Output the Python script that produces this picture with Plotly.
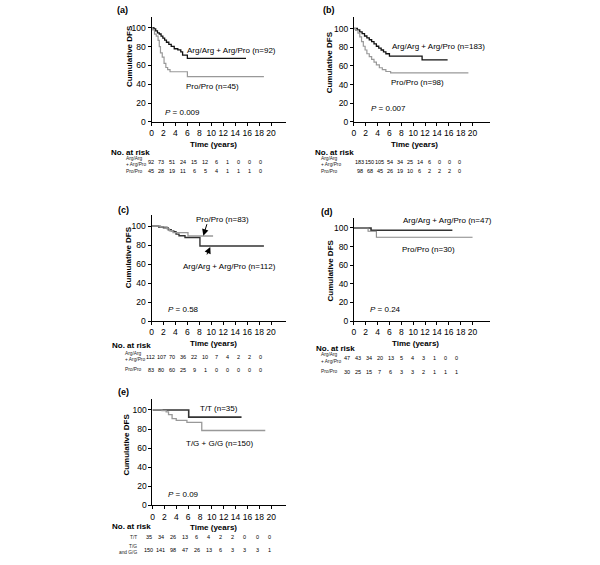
import plotly.graph_objects as go

W, H = 600, 565
FONT = "Arial, Liberation Sans, sans-serif"
BLACK = "#111111"
DARK = "#333333"
GREY = "#999999"

# ---- survival curves (time in years, cumulative DFS %) ----
# (a)
a_arg_t = [0, 0.4, 0.7, 1.0, 1.3, 1.6, 1.9, 2.2, 2.5, 2.9, 3.3, 3.8, 4.4, 4.9, 5.2, 6.0, 15.8]
a_arg_s = [100, 98.9, 96.7, 94.5, 93.4, 91.2, 89.0, 86.8, 84.6, 82.4, 80.2, 77.7, 76.5, 74.3, 71.0, 67.5, 67.5]
a_pro_t = [0, 0.2, 0.5, 0.8, 1.1, 1.3, 1.5, 1.8, 2.1, 2.4, 2.7, 3.1, 6.0, 18.8]
a_pro_s = [100, 97.8, 93.3, 91.1, 86.7, 80.0, 73.3, 68.9, 62.2, 57.8, 55.6, 53.3, 48.0, 48.0]
# (b)
b_arg_t = [0, 0.6, 1.0, 1.4, 1.8, 2.2, 2.6, 3.0, 3.4, 3.8, 4.2, 4.6, 5.0, 5.4, 6.0, 11.5, 15.8]
b_arg_s = [100, 98.5, 96.5, 94.5, 92.0, 90.0, 88.0, 86.0, 83.5, 81.0, 79.0, 77.0, 75.0, 73.0, 70.5, 66.5, 66.5]
b_pro_t = [0, 0.3, 0.7, 1.0, 1.3, 1.6, 1.9, 2.2, 2.6, 3.0, 3.4, 3.8, 4.3, 4.8, 5.4, 6.2, 19.3]
b_pro_s = [100, 98, 95, 91, 86, 81, 77, 73, 70, 67, 64, 61, 58, 56, 54, 52.5, 52.5]
# (c)
c_arg_t = [0, 1.2, 2.0, 2.8, 3.3, 3.7, 4.1, 4.6, 5.6, 8.1, 18.8]
c_arg_s = [100, 99, 98, 96, 95, 94, 91.5, 89.7, 88, 79, 79]
c_pro_t = [0, 1.5, 2.6, 3.0, 3.6, 6.1, 10.3]
c_pro_s = [100, 99, 97, 95, 93, 89.5, 89.5]
# (d)
d_arg_t = [0, 2.9, 16.6]
d_arg_s = [100, 97.5, 97.5]
d_pro_t = [0, 2.4, 3.8, 20.0]
d_pro_s = [100, 96.5, 90, 90]
# (e)
e_tt_t = [0, 6.1, 15.0]
e_tt_s = [100, 92.5, 92.5]
e_tg_t = [0, 1.6, 2.3, 2.7, 3.3, 4.0, 5.8, 8.3, 19.0]
e_tg_s = [100, 99.3, 98, 95, 91, 89, 87, 78.5, 78.5]

# ---- numbers at risk ----
a_risk_arg = [92, 73, 51, 24, 15, 12, 6, 1, 0, 0, 0]
a_risk_pro = [45, 28, 19, 11, 6, 5, 4, 1, 1, 1, 0]
b_risk_arg = [183, 150, 105, 54, 34, 25, 14, 6, 0, 0, 0]
b_risk_pro = [98, 68, 45, 26, 19, 10, 6, 2, 2, 2, 0]
c_risk_arg = [112, 107, 70, 36, 22, 10, 7, 4, 2, 2, 0]
c_risk_pro = [83, 80, 60, 25, 9, 1, 0, 0, 0, 0, 0]
d_risk_arg = [47, 43, 34, 20, 13, 5, 4, 3, 1, 0, 0]
d_risk_pro = [30, 25, 15, 7, 6, 3, 3, 2, 1, 1, 1]
e_risk_tt = [35, 34, 26, 13, 6, 4, 2, 2, 0, 0, 0]
e_risk_tg = [150, 141, 98, 47, 26, 13, 6, 3, 3, 3, 1]

x_ticks = list(range(0, 21, 2))
y_ticks = [0, 20, 40, 60, 80, 100]


def X(px):
    return px / W


def Y(py):
    return 1 - py / H


# panel geometry in pixels: x0, x1, y_top, y_bottom, x range max, y range max
panels = {
    "a": dict(x0=150, x1=285, top=17, bot=123, xmax=22.5, ymax=111.6),
    "b": dict(x0=353, x1=490, top=17, bot=123, xmax=23.0, ymax=112.5),
    "c": dict(x0=150, x1=285, top=217, bot=324, xmax=22.5, ymax=111.5),
    "d": dict(x0=353, x1=490, top=220, bot=324, xmax=23.0, ymax=110.6),
    "e": dict(x0=151, x1=285, top=403, bot=510, xmax=22.5, ymax=111.0),
}

fig = go.Figure()
layout = {}
ann = []

curves = {
    "a": [(a_arg_t, a_arg_s, BLACK, 1.3), (a_pro_t, a_pro_s, GREY, 1.2)],
    "b": [(b_arg_t, b_arg_s, BLACK, 1.3), (b_pro_t, b_pro_s, GREY, 1.2)],
    "c": [(c_arg_t, c_arg_s, DARK, 1.4), (c_pro_t, c_pro_s, GREY, 1.3)],
    "d": [(d_arg_t, d_arg_s, DARK, 1.6), (d_pro_t, d_pro_s, "#888888", 1.1)],
    "e": [(e_tt_t, e_tt_s, DARK, 1.6), (e_tg_t, e_tg_s, GREY, 1.3)],
}

for i, key in enumerate("abcde"):
    p = panels[key]
    n = "" if i == 0 else str(i + 1)
    axis_common = dict(showline=True, linecolor="black", linewidth=1, ticks="outside",
                       ticklen=3, tickwidth=1, tickcolor="black", showgrid=False,
                       zeroline=False, tickangle=0,
                       tickfont=dict(family=FONT, size=8.5, color="black"))
    layout["xaxis" + n] = dict(domain=[X(p["x0"]), X(p["x1"])], range=[0, p["xmax"]],
                               anchor="y" + n, tickvals=x_ticks, **axis_common)
    layout["yaxis" + n] = dict(domain=[Y(p["bot"]), Y(p["top"])], range=[0, p["ymax"]],
                               anchor="x" + n, tickvals=y_ticks, **axis_common)
    for t, s, col, w in curves[key]:
        fig.add_trace(go.Scatter(x=t, y=s, mode="lines", line=dict(color=col, width=w, shape="hv"),
                                 xaxis="x" + n, yaxis="y" + n, showlegend=False, hoverinfo="skip"))


def text(px, py, s, size=8, bold=False, xanchor="center", angle=0, color="black"):
    if bold:
        s = "<b>" + s + "</b>"
    ann.append(dict(x=X(px), y=Y(py), xref="paper", yref="paper", text=s, showarrow=False,
                    xanchor=xanchor, yanchor="middle", textangle=angle,
                    font=dict(family=FONT, size=size, color=color)))


# panel letters
for key, (px, py) in {"a": (121, 10), "b": (328, 10), "c": (122, 212), "d": (326, 214), "e": (122, 395)}.items():
    text(px, py, "(%s)" % key, size=9, bold=True)

# axis titles
for px, py in [(212, 146), (414, 146), (212, 347), (415, 347), (212, 532)]:
    text(px, py, "Time (years)", size=8, bold=True)
for px, py in [(128, 57), (329, 63), (127, 260), (330, 273), (124, 449)]:
    text(px, py, "Cumulative DFS", size=8, bold=True, angle=-90)

# curve labels
text(230, 51, "Arg/Arg + Arg/Pro (n=92)")
text(211, 87, "Pro/Pro (n=45)")
text(438, 47, "Arg/Arg + Arg/Pro (n=183)")
text(417, 83, "Pro/Pro (n=98)")
text(221, 221, "Pro/Pro (n=83)")
text(228, 269, "Arg/Arg + Arg/Pro (n=112)")
text(447, 222, "Arg/Arg + Arg/Pro (n=47)")
text(428, 252, "Pro/Pro (n=30)")
text(218, 412, "T/T (n=35)")
text(218, 447, "T/G + G/G (n=150)")

# p values
text(162, 114, "<i>P</i> = 0.009", xanchor="left")
text(368, 109, "<i>P</i> = 0.007", xanchor="left")
text(165, 312, "<i>P</i> = 0.58", xanchor="left")
text(367, 312, "<i>P</i> = 0.24", xanchor="left")
text(165, 499, "<i>P</i> = 0.09", xanchor="left")

# arrows in (c)
for hx, hy, ax, ay in [(8.67, 89.8, 4, -13), (9.83, 78.0, -4, 9)]:
    ann.append(dict(x=hx, y=hy, xref="x3", yref="y3", text="", showarrow=True, ax=ax, ay=ay,
                    arrowhead=2, arrowsize=1.3, arrowwidth=1, arrowcolor="black"))

# risk tables: heading position, first number x, column step, rows
risk = [
    dict(head=(107, 154), x0=149, dx=11.0, rows=[
        (["Arg/Arg", "+ Arg/Pro"], 122, "left", [160, 166], 163, a_risk_arg),
        (["Pro/Pro"], 122, "left", [173], 173, a_risk_pro)]),
    dict(head=(312, 154), x0=359, dx=10.0, rows=[
        (["Arg/Arg", "+ Arg/Pro"], 318, "left", [160, 166], 163, b_risk_arg),
        (["Pro/Pro"], 318, "left", [173], 173, b_risk_pro)]),
    dict(head=(108, 349), x0=149, dx=11.0, rows=[
        (["Arg/Arg", "+ Arg/Pro"], 121, "left", [357, 363], 360, c_risk_arg),
        (["Pro/Pro"], 121, "left", [373], 373, c_risk_pro)]),
    dict(head=(313, 352), x0=346, dx=11.0, rows=[
        (["Arg/Arg", "+ Arg/Pro"], 318, "left", [358, 365], 361, d_risk_arg),
        (["Pro/Pro"], 318, "left", [375], 375, d_risk_pro)]),
    dict(head=(108, 531), x0=147, dx=12.1, rows=[
        (["T/T"], 137, "right", [542], 542, e_risk_tt),
        (["T/G", "and G/G"], 137, "right", [551, 557], 555, e_risk_tg)]),
]
for tb in risk:
    text(tb["head"][0], tb["head"][1], "No. at risk", size=8, bold=True, xanchor="left")
    for lines, lx, al, lys, ny, vals in tb["rows"]:
        for line, ly in zip(lines, lys):
            text(lx, ly, line, size=4.8, xanchor=al, color="#222222")
        for j, v in enumerate(vals):
            text(tb["x0"] + j * tb["dx"], ny, str(v), size=5.5)

fig.update_layout(width=W, height=H, margin=dict(l=0, r=0, t=0, b=0),
                  plot_bgcolor="white", paper_bgcolor="white",
                  font=dict(family=FONT, color="black"), annotations=ann, **layout)

# drop the browser's default 8px body margin so the figure fills the window exactly
fig.write_html("out.html", config={"displayModeBar": False},
               post_script="document.body.style.margin = '0';")
